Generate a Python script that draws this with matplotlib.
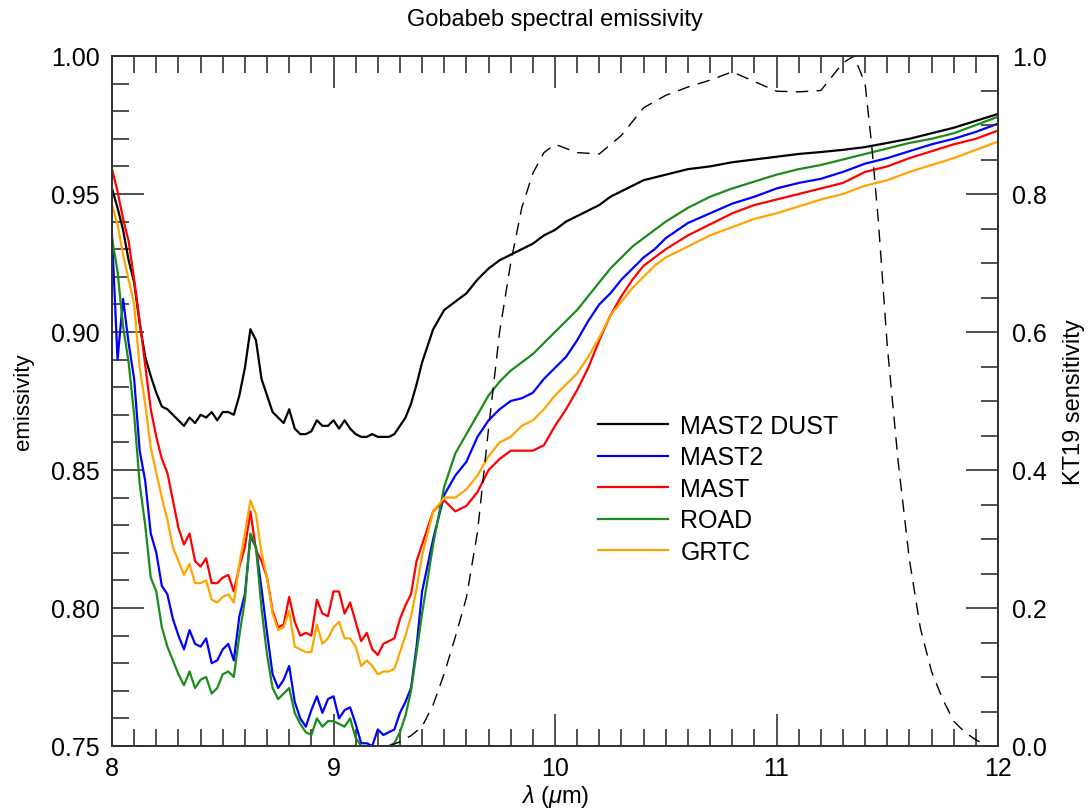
import matplotlib
matplotlib.use('Agg')
from matplotlib import pyplot as plt
from matplotlib.ticker import MultipleLocator, FormatStrFormatter

plt.rcParams['font.family'] = ['Liberation Sans', 'DejaVu Sans']
plt.rcParams['mathtext.fontset'] = 'custom'
plt.rcParams['mathtext.rm'] = 'Liberation Sans'
plt.rcParams['mathtext.it'] = 'Liberation Sans:italic'

# wavelength grid (um), shared by the five emissivity spectra
wl = [8.000, 8.025, 8.050, 8.075, 8.100, 8.125, 8.150, 8.175, 8.200, 8.225,
      8.250, 8.275, 8.300, 8.325, 8.350, 8.375, 8.400, 8.425, 8.450, 8.475,
      8.500, 8.525, 8.550, 8.575, 8.600, 8.625, 8.650, 8.675, 8.700, 8.725,
      8.750, 8.775, 8.800, 8.825, 8.850, 8.875, 8.900, 8.925, 8.950, 8.975,
      9.000, 9.025, 9.050, 9.075, 9.100, 9.125, 9.150, 9.175, 9.200, 9.225,
      9.250, 9.275, 9.300, 9.325, 9.350, 9.375, 9.400,
      9.45, 9.50, 9.55, 9.60, 9.65, 9.70, 9.75, 9.80, 9.85, 9.90, 9.95,
      10.00, 10.05, 10.10, 10.15, 10.20, 10.25, 10.30, 10.35, 10.40, 10.45, 10.50,
      10.6, 10.7, 10.8, 10.9, 11.0, 11.1, 11.2, 11.3, 11.4, 11.5, 11.6, 11.7,
      11.8, 11.9, 12.0]

mast2_dust = [0.952, 0.945, 0.937, 0.926, 0.918, 0.903, 0.891, 0.884, 0.878, 0.873,
              0.872, 0.870, 0.868, 0.866, 0.869, 0.867, 0.870, 0.869, 0.871, 0.868,
              0.871, 0.871, 0.870, 0.877, 0.887, 0.901, 0.897, 0.883, 0.877, 0.871,
              0.869, 0.867, 0.872, 0.865, 0.863, 0.863, 0.864, 0.868, 0.866, 0.866,
              0.868, 0.865, 0.868, 0.865, 0.863, 0.862, 0.862, 0.863, 0.862, 0.862,
              0.862, 0.863, 0.866, 0.869, 0.874, 0.881, 0.889,
              0.901, 0.908, 0.911, 0.914, 0.919, 0.923, 0.926, 0.928, 0.930, 0.932, 0.935,
              0.937, 0.940, 0.942, 0.944, 0.946, 0.949, 0.951, 0.953, 0.955, 0.956, 0.957,
              0.959, 0.960, 0.9615, 0.9625, 0.9635, 0.9645, 0.9652, 0.966, 0.967, 0.9685,
              0.970, 0.972, 0.974, 0.9765, 0.979]

mast2 = [0.935, 0.890, 0.912, 0.896, 0.883, 0.857, 0.846, 0.827, 0.820, 0.808,
         0.805, 0.796, 0.790, 0.785, 0.792, 0.787, 0.786, 0.789, 0.780, 0.781,
         0.785, 0.787, 0.781, 0.797, 0.805, 0.826, 0.822, 0.807, 0.791, 0.776,
         0.771, 0.774, 0.779, 0.766, 0.760, 0.757, 0.763, 0.768, 0.762, 0.767,
         0.768, 0.760, 0.763, 0.764, 0.758, 0.751, 0.751, 0.750, 0.756, 0.754,
         0.755, 0.756, 0.762, 0.766, 0.771, 0.786, 0.806,
         0.825, 0.841, 0.848, 0.853, 0.862, 0.868, 0.872, 0.875, 0.876, 0.878, 0.883,
         0.887, 0.891, 0.897, 0.904, 0.910, 0.914, 0.919, 0.923, 0.927, 0.930, 0.934,
         0.9395, 0.943, 0.9465, 0.949, 0.952, 0.954, 0.9555, 0.958, 0.961, 0.963,
         0.9655, 0.968, 0.970, 0.9725, 0.9755]

mast = [0.959, 0.951, 0.941, 0.933, 0.919, 0.904, 0.888, 0.872, 0.862, 0.854,
        0.849, 0.839, 0.829, 0.823, 0.827, 0.817, 0.815, 0.818, 0.809, 0.809,
        0.811, 0.812, 0.806, 0.815, 0.822, 0.835, 0.821, 0.817, 0.811, 0.799,
        0.793, 0.794, 0.804, 0.795, 0.790, 0.791, 0.790, 0.803, 0.798, 0.797,
        0.806, 0.806, 0.798, 0.802, 0.795, 0.788, 0.791, 0.785, 0.783, 0.787,
        0.788, 0.789, 0.796, 0.801, 0.805, 0.817, 0.823,
        0.835, 0.839, 0.835, 0.837, 0.842, 0.850, 0.854, 0.857, 0.857, 0.857, 0.859,
        0.866, 0.872, 0.879, 0.887, 0.897, 0.906, 0.913, 0.919, 0.924, 0.927, 0.930,
        0.935, 0.939, 0.943, 0.946, 0.948, 0.950, 0.952, 0.954, 0.958, 0.960,
        0.963, 0.9655, 0.968, 0.970, 0.973]

road = [0.934, 0.922, 0.902, 0.889, 0.870, 0.845, 0.830, 0.811, 0.806, 0.793,
        0.786, 0.781, 0.776, 0.772, 0.777, 0.771, 0.774, 0.775, 0.769, 0.771,
        0.776, 0.777, 0.775, 0.790, 0.803, 0.827, 0.822, 0.800, 0.783, 0.771,
        0.767, 0.769, 0.771, 0.762, 0.758, 0.755, 0.754, 0.760, 0.757, 0.759,
        0.759, 0.758, 0.757, 0.760, 0.753, 0.750, 0.749, 0.749, 0.749, 0.749,
        0.750, 0.751, 0.755, 0.761, 0.770, 0.784, 0.798,
        0.823, 0.844, 0.856, 0.863, 0.870, 0.877, 0.882, 0.886, 0.889, 0.892, 0.896,
        0.900, 0.904, 0.908, 0.913, 0.918, 0.923, 0.927, 0.931, 0.934, 0.937, 0.940,
        0.945, 0.949, 0.952, 0.9545, 0.957, 0.959, 0.9605, 0.9625, 0.9645, 0.9665,
        0.9685, 0.970, 0.972, 0.975, 0.978]

grtc = [0.946, 0.939, 0.928, 0.919, 0.910, 0.887, 0.874, 0.858, 0.849, 0.840,
        0.832, 0.822, 0.817, 0.812, 0.816, 0.809, 0.809, 0.810, 0.803, 0.802,
        0.804, 0.805, 0.802, 0.816, 0.827, 0.839, 0.834, 0.820, 0.811, 0.798,
        0.792, 0.793, 0.799, 0.786, 0.785, 0.784, 0.784, 0.794, 0.787, 0.789,
        0.793, 0.795, 0.789, 0.789, 0.786, 0.779, 0.781, 0.779, 0.776, 0.777,
        0.777, 0.778, 0.784, 0.790, 0.797, 0.807, 0.819,
        0.835, 0.840, 0.840, 0.843, 0.848, 0.855, 0.860, 0.862, 0.866, 0.868, 0.872,
        0.877, 0.881, 0.885, 0.891, 0.898, 0.906, 0.911, 0.916, 0.920, 0.924, 0.927,
        0.931, 0.935, 0.938, 0.941, 0.943, 0.9455, 0.948, 0.950, 0.953, 0.955,
        0.958, 0.9605, 0.963, 0.966, 0.969]

# KT19 radiometer spectral response (right axis)
kt_wl = [9.25, 9.30, 9.35, 9.40, 9.45, 9.50, 9.55, 9.60, 9.65, 9.70, 9.75,
         9.80, 9.85, 9.90, 9.95, 10.00, 10.10, 10.20, 10.30, 10.40, 10.50,
         10.60, 10.70, 10.80, 10.90, 11.00, 11.10, 11.20, 11.30, 11.35, 11.40,
         11.43, 11.46, 11.50, 11.55, 11.60, 11.65, 11.70, 11.75, 11.80, 11.85,
         11.90, 11.95]
kt_resp = [0.0, 0.006, 0.015, 0.028, 0.06, 0.105, 0.158, 0.215, 0.31, 0.46, 0.60,
           0.70, 0.78, 0.83, 0.86, 0.872, 0.86, 0.858, 0.885, 0.925, 0.943,
           0.955, 0.965, 0.977, 0.963, 0.949, 0.948, 0.95, 0.99, 1.0, 0.96,
           0.87, 0.76, 0.58, 0.41, 0.27, 0.17, 0.108, 0.068, 0.036, 0.02,
           0.009, 0.0]

series = [('MAST2 DUST', mast2_dust, 'black'),
          ('MAST2', mast2, '#0000ff'),
          ('MAST', mast, '#ff0000'),
          ('ROAD', road, '#1a8c1a'),
          ('GRTC', grtc, '#ffa500')]

fig = plt.figure(figsize=(10.9, 8.12), dpi=100)
ax = fig.add_axes([112 / 1090, 1 - 747 / 812, 886 / 1090, 690 / 812])
ax2 = ax.twinx()

for name, vals, col in series:
    ax.plot(wl, vals, color=col, lw=1.6, label=name)
ax2.plot(kt_wl, kt_resp, color='black', lw=1.0, dashes=(9, 6))

ax.set_xlim(8, 12)
ax.set_ylim(0.75, 1.00)
ax2.set_ylim(0.0, 1.0)

ax.xaxis.set_major_locator(MultipleLocator(1))
ax.xaxis.set_minor_locator(MultipleLocator(0.1))
ax.yaxis.set_major_locator(MultipleLocator(0.05))
ax.yaxis.set_minor_locator(MultipleLocator(0.01))
ax.yaxis.set_major_formatter(FormatStrFormatter('%.2f'))
ax2.yaxis.set_major_locator(MultipleLocator(0.2))
ax2.yaxis.set_minor_locator(MultipleLocator(0.05))
ax2.yaxis.set_major_formatter(FormatStrFormatter('%.1f'))

tick_col = '#333333'
ax.tick_params(axis='x', which='both', direction='in', top=True, bottom=True,
               color=tick_col, labelsize=18, pad=7)
ax.tick_params(axis='y', which='both', direction='in', left=True, right=False,
               color=tick_col, labelsize=18, pad=9)
ax2.tick_params(axis='y', which='both', direction='in', left=False, right=True,
                color=tick_col, labelsize=18, pad=10)
for a in (ax, ax2):
    a.tick_params(which='major', length=23, width=1.2)
    a.tick_params(which='minor', length=12, width=1.2)
    for sp in a.spines.values():
        sp.set_color(tick_col)
        sp.set_linewidth(1.3)

ax.set_xlabel(r'$\lambda$ ($\mu$m)', fontsize=17, labelpad=2)
ax.set_ylabel('emissivity', fontsize=16, labelpad=12)
ax2.set_ylabel('KT19 sensitivity', fontsize=17, labelpad=12)
ax.set_title('Gobabeb spectral emissivity', fontsize=17, pad=22)

ax.legend(loc='upper left', bbox_to_anchor=(598 / 1090, 1 - 415 / 812),
          bbox_transform=fig.transFigure, frameon=False, fontsize=18,
          handlelength=2.8, handletextpad=0.5, labelspacing=0.3,
          borderpad=0, borderaxespad=0)

fig.savefig('out.png', dpi=100)
